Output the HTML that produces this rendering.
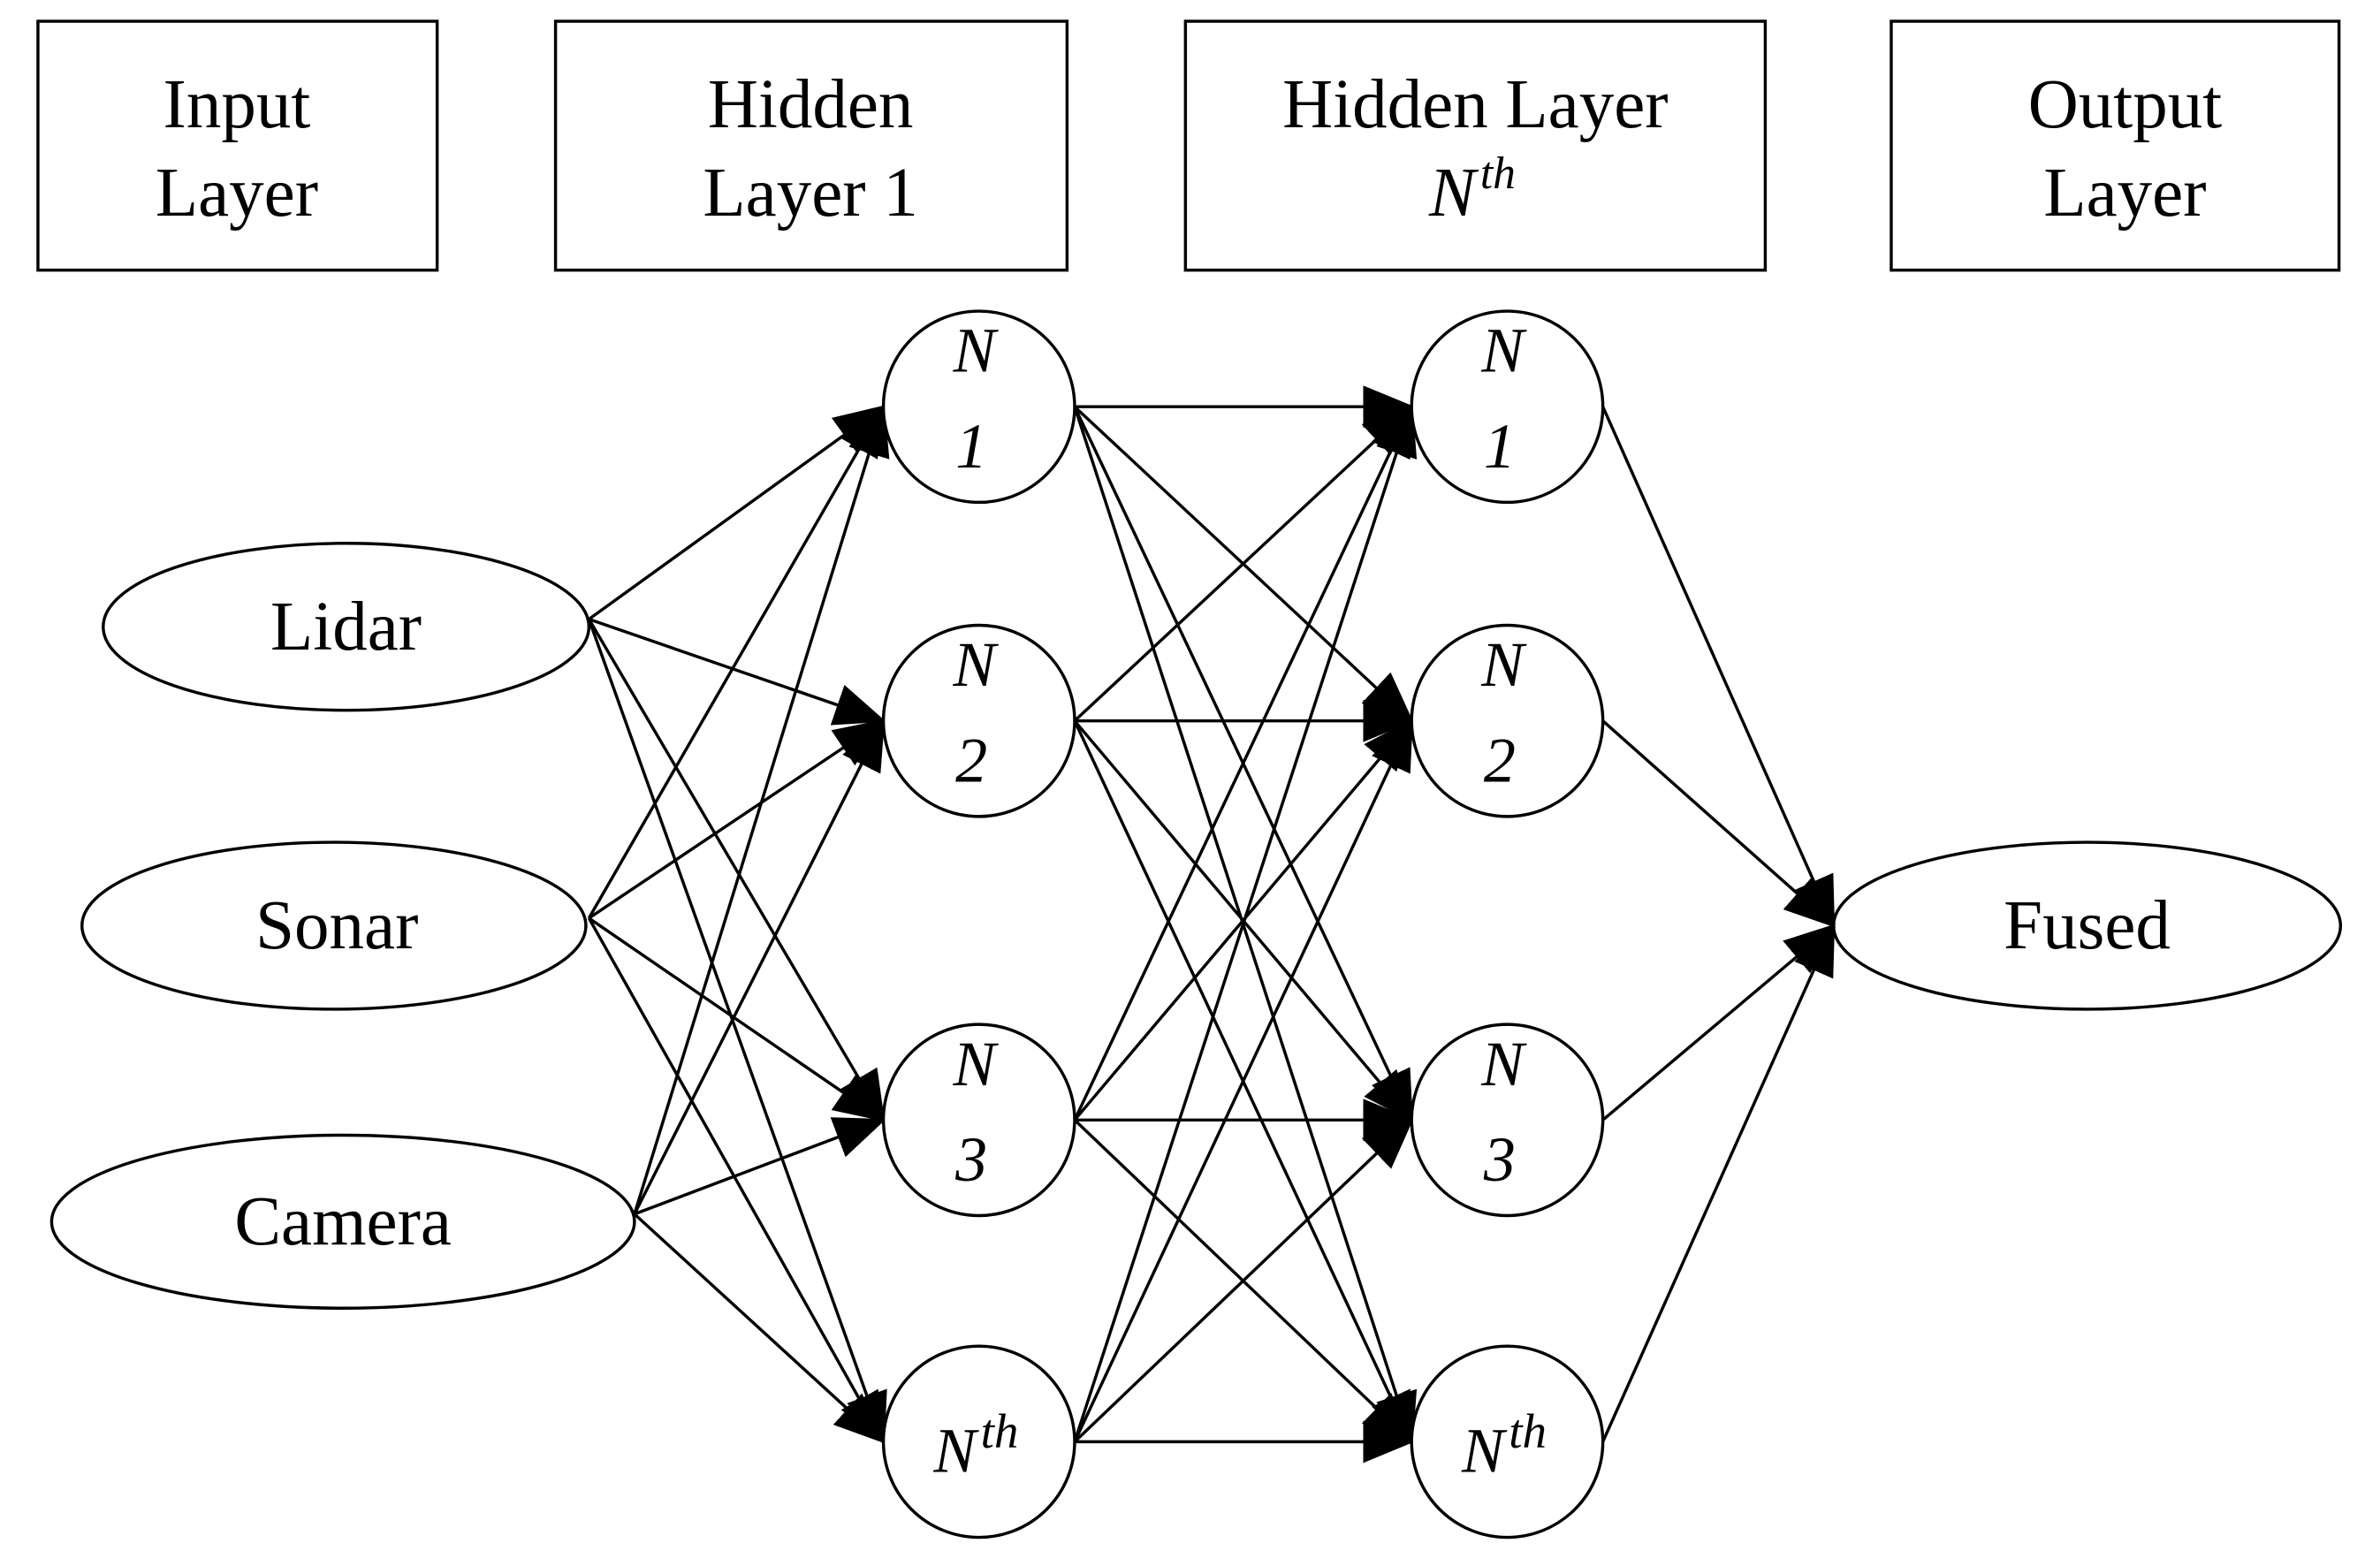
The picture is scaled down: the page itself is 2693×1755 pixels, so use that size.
<!DOCTYPE html>
<html><head><meta charset="utf-8"><style>
html,body{margin:0;padding:0;background:#fff}
svg{display:block}
text{font-family:"Liberation Serif",serif;fill:#000}
</style></head><body>
<svg id="s" width="2693" height="1755" viewBox="0 0 1568 1022" preserveAspectRatio="none" xmlns="http://www.w3.org/2000/svg">
<defs>
<marker id="a" markerUnits="userSpaceOnUse" markerWidth="34" markerHeight="28" refX="32" refY="14" orient="auto">
<path d="M0,0 L34,14 L0,28 Z" fill="#000"/>
</marker>
</defs>
<g fill="none" stroke="#000" stroke-width="2">
<rect x="25" y="14" width="263" height="164"/>
<rect x="366" y="14" width="337" height="164"/>
<rect x="781" y="14" width="382" height="164"/>
<rect x="1246" y="14" width="295" height="164"/>
<ellipse cx="228" cy="413" rx="160" ry="55"/>
<ellipse cx="220" cy="610" rx="166" ry="55"/>
<ellipse cx="226" cy="805" rx="192" ry="57"/>
<ellipse cx="1375" cy="610" rx="167" ry="55"/>
</g>
<g id="edges" stroke="#000" stroke-width="2"></g>
<g id="circ" fill="#fff" stroke="#000" stroke-width="2"></g>
<g font-size="46" text-anchor="middle">
<text x="156" y="84">Input</text><text x="156" y="142">Layer</text>
<text x="534" y="84">Hidden</text><text x="534" y="142">Layer 1</text>
<text x="972" y="84">Hidden Layer</text>
<text x="970" y="142" font-style="italic">N<tspan font-size="30" dy="-18" dx="3">th</tspan></text>
<text x="1400" y="84">Output</text><text x="1400" y="142">Layer</text>
<text x="228" y="428">Lidar</text>
<text x="222" y="625">Sonar</text>
<text x="226" y="820">Camera</text>
<text x="1375" y="625">Fused</text>
</g>
<g id="lbl" font-size="42" font-style="italic" text-anchor="middle"></g>
</svg>
<script>
var ns="http://www.w3.org/2000/svg";
function el(p,t,a,txt){var e=document.createElementNS(ns,t);for(var k in a)e.setAttribute(k,a[k]);if(txt)e.textContent=txt;document.getElementById(p).appendChild(e);return e;}
var ys=[268,475,738,950],x1=645,x2=993,r=63;
var src=[[388,408],[388,605],[418,800]];
src.forEach(function(s){ys.forEach(function(y){el("edges","line",{x1:s[0],y1:s[1],x2:x1-r,y2:y,"marker-end":"url(#a)"});});});
ys.forEach(function(ya){ys.forEach(function(yb){el("edges","line",{x1:x1+r,y1:ya,x2:x2-r,y2:yb,"marker-end":"url(#a)"});});});
ys.forEach(function(y){el("edges","line",{x1:x2+r,y1:y,x2:1208,y2:610,"marker-end":"url(#a)"});});
[x1,x2].forEach(function(x){ys.forEach(function(y,i){
el("circ","circle",{cx:x,cy:y,r:r});
if(i<3){el("lbl","text",{x:x-3,y:y-23},"N");el("lbl","text",{x:x-5,y:y+40},String(i+1));}
else{var t=el("lbl","text",{x:x-2,y:y+20},"N");var ts=document.createElementNS(ns,"tspan");ts.setAttribute("font-size","32");ts.setAttribute("dy","-16");ts.setAttribute("dx","3");ts.textContent="th";t.appendChild(ts);}
});});
</script>
</body></html>
